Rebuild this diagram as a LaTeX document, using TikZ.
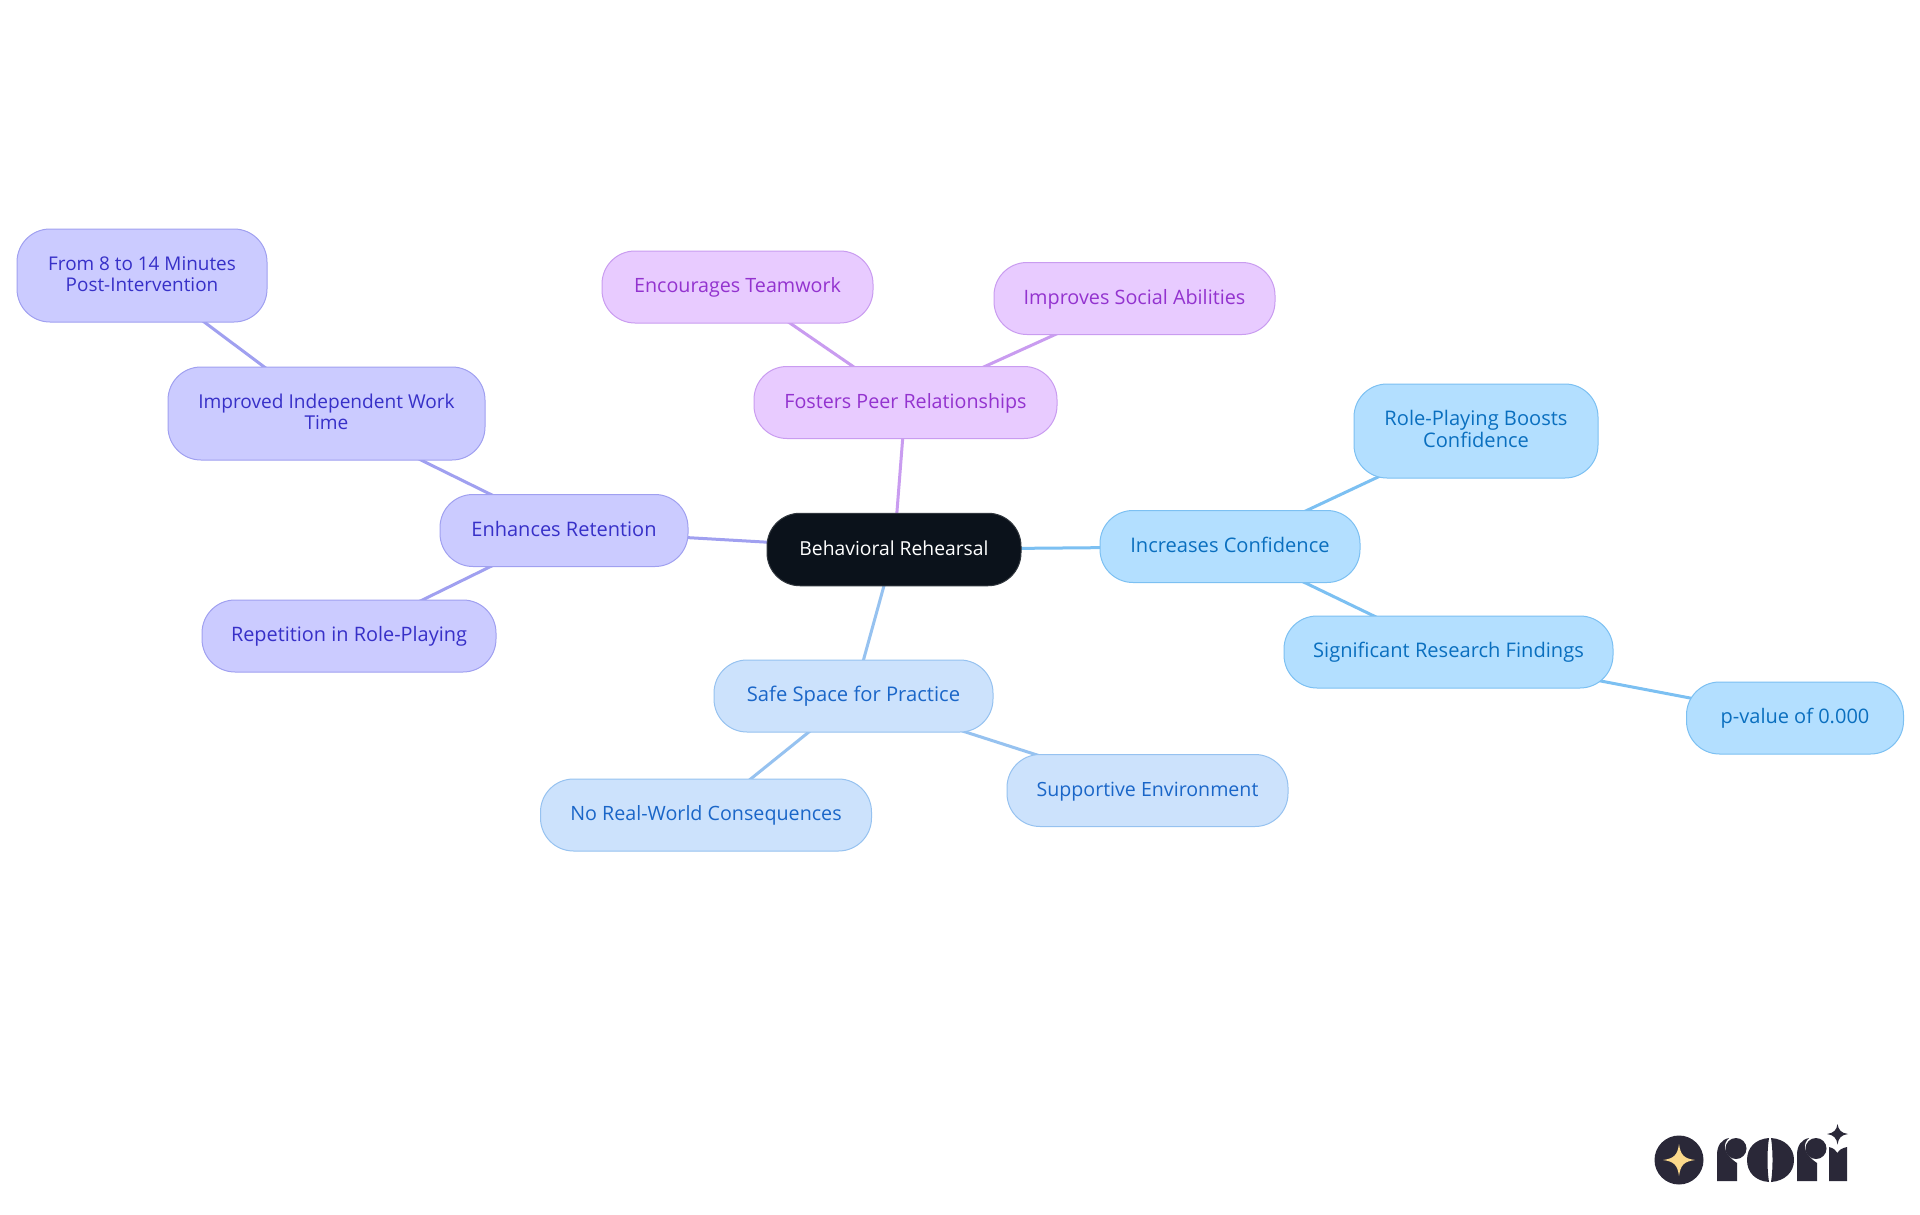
\documentclass[tikz,border=0pt]{standalone}
\usepackage{fontspec}
\setmainfont{Open Sans}
\usetikzlibrary{backgrounds}
\definecolor{rootc}{HTML}{0B121B}
\definecolor{bF}{HTML}{B3DFFF}\definecolor{bS}{HTML}{7CC0F2}\definecolor{bT}{HTML}{0A6FBF}
\definecolor{cF}{HTML}{CCE2FC}\definecolor{cS}{HTML}{96C2F0}\definecolor{cT}{HTML}{1A66C8}
\definecolor{pF}{HTML}{E8CBFF}\definecolor{pS}{HTML}{C99CF0}\definecolor{pT}{HTML}{9333CF}
\definecolor{iF}{HTML}{CBCBFF}\definecolor{iS}{HTML}{A0A0F0}\definecolor{iT}{HTML}{3730C8}
\definecolor{logoD}{HTML}{2A2838}\definecolor{logoS}{HTML}{FBD98B}
\newcommand{\mmtop}{\rule{0pt}{18.3pt}}
\newcommand{\mmbot}{\rule[-7.3pt]{0pt}{7.3pt}}
\tikzset{x=1pt,y=-1pt,
 fs/.style={font=\fontsize{#1}{21.5}\selectfont},
 mm/.style={rectangle,rounded corners=33pt,line width=1pt,inner sep=0pt,align=center},
 rootn/.style={mm,fill=rootc,draw=rootc!85!white,text=white},
 bn/.style={mm,fill=bF,draw=bS,text=bT},
 cn/.style={mm,fill=cF,draw=cS,text=cT},
 pn/.style={mm,fill=pF,draw=pS,text=pT},
 vn/.style={mm,fill=iF,draw=iS,text=iT},
 be/.style={bS,line width=3pt},
 ce/.style={cS,line width=3pt},
 pe/.style={pS,line width=3pt},
 ve/.style={iS,line width=3pt},
 logod/.style={fill=logoD,draw=none}}
\newcommand{\mmnode}[7]{\node[#1,minimum width=#4pt,minimum height=#5pt] (#2) at (#6,#7) {\mmtop #3\mmbot};}
\begin{document}
\begin{tikzpicture}
\useasboundingbox (0,0) rectangle (1920,1215);
\mmnode{rootn,fs=19.3}{root}{Behavioral Rehearsal}{254}{72.5}{894}{549.5}
\mmnode{bn,fs=20.1}{conf}{Increases Confidence}{260}{72}{1230}{546.5}
\mmnode{bn,fs=20.1}{boost}{Role-Playing Boosts\\Confidence}{244}{94}{1476}{431}
\mmnode{bn,fs=20.1}{signif}{Significant Research Findings}{329}{72}{1448.5}{652}
\mmnode{bn,fs=20}{pval}{p-value of 0.000}{217}{72}{1795}{718}
\mmnode{cn,fs=20.2}{safe}{Safe Space for Practice}{279}{72}{853.5}{696}
\mmnode{cn,fs=19.6}{supp}{Supportive Environment}{281}{72}{1147.5}{790.5}
\mmnode{cn,fs=19.7}{noreal}{No Real-World Consequences}{331}{72}{706}{815}
\mmnode{pn,fs=19.7}{peer}{Fosters Peer Relationships}{303}{72}{905.5}{402.5}
\mmnode{pn,fs=19.7}{team}{Encourages Teamwork}{271}{72}{737.5}{287}
\mmnode{pn,fs=19.8}{social}{Improves Social Abilities}{281}{72}{1134.5}{298.5}
\mmnode{vn,fs=20}{retain}{Enhances Retention}{248}{72}{564}{530.5}
\mmnode{vn,fs=19.1}{work}{Improved Independent Work\\Time}{317}{93}{326.5}{413.5}
\mmnode{vn,fs=18.9}{mins}{From 8 to 14 Minutes\\Post-Intervention}{250}{93}{142}{275.5}
\mmnode{vn,fs=19.9}{rep}{Repetition in Role-Playing}{294}{72}{349}{636}
\begin{scope}[on background layer]
\fill[white] (0,0) rectangle (1920,1215);
\draw[be] (root.center) -- (conf.center);
\draw[be] (conf.center) -- (boost.center);
\draw[be] (conf.center) -- (signif.center);
\draw[be] (signif.center) -- (pval.center);
\draw[ce] (root.center) -- (safe.center);
\draw[ce] (safe.center) -- (supp.center);
\draw[ce] (safe.center) -- (noreal.center);
\draw[pe] (root.center) -- (peer.center);
\draw[pe] (peer.center) -- (team.center);
\draw[pe] (peer.center) -- (social.center);
\draw[ve] (root.center) -- (retain.center);
\draw[ve] (retain.center) -- (work.center);
\draw[ve] (work.center) -- (mins.center);
\draw[ve] (retain.center) -- (rep.center);
\end{scope}
% logo
\fill[logod] (1679,1160) circle (24.5);
\fill[logoS] (1679,1144) .. controls (1680.5,1155) and (1684,1158.5) .. (1695,1160)
  .. controls (1684,1161.5) and (1680.5,1165) .. (1679,1176)
  .. controls (1677.5,1165) and (1674,1161.5) .. (1663,1160)
  .. controls (1674,1158.5) and (1677.5,1155) .. (1679,1144) -- cycle;
% r
\fill[logod] (1717,1181) -- (1717,1155) .. controls (1717,1146) and (1721,1139.5) .. (1729,1138)
  .. controls (1723,1143) and (1722,1153) .. (1737,1163) -- (1737,1181) -- cycle;
\fill[logod] (1736,1148.5) circle (10.5);
% o
\fill[logod] (1769,1138) .. controls (1755,1139) and (1747,1148) .. (1747,1160)
  .. controls (1747,1172) and (1755,1181) .. (1769,1182)
  .. controls (1767,1170) and (1767,1150) .. (1769,1138) -- cycle;
\fill[logod] (1771,1138) .. controls (1785,1139) and (1794,1148) .. (1794,1160)
  .. controls (1794,1172) and (1785,1181) .. (1771,1182)
  .. controls (1773,1170) and (1773,1150) .. (1771,1138) -- cycle;
% r
\fill[logod] (1797,1181) -- (1797,1155) .. controls (1797,1146) and (1801,1139.5) .. (1809,1138)
  .. controls (1803,1143) and (1802,1153) .. (1817,1163) -- (1817,1181) -- cycle;
\fill[logod] (1816,1148.5) circle (10.5);
% i
\fill[logod] (1829,1181) -- (1829,1147) .. controls (1833,1148) and (1836,1150) .. (1837.5,1153)
  .. controls (1839,1150) and (1842,1148) .. (1847,1147) -- (1847,1181) -- cycle;
% sparkle
\fill[logod] (1837.5,1124) .. controls (1838.5,1130) and (1841,1133) .. (1848,1134)
  .. controls (1841,1135) and (1838.5,1138) .. (1837.5,1144.5)
  .. controls (1836.5,1138) and (1834,1135) .. (1827,1134)
  .. controls (1834,1133) and (1836.5,1130) .. (1837.5,1124) -- cycle;
\end{tikzpicture}
\end{document}
